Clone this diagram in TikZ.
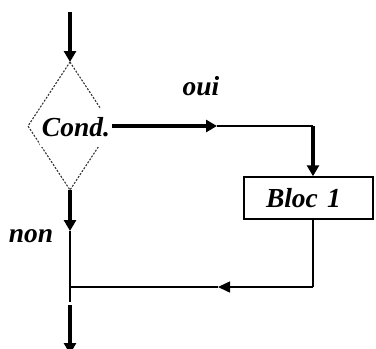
\documentclass[tikz,border=0pt]{standalone}
\usepackage{fontspec}
\setmainfont{Liberation Serif}
\usetikzlibrary{arrows.meta}
\begin{document}
\begin{tikzpicture}[x=1pt,y=-1pt,
  thickline/.style={line width=3.2pt},
  thinline/.style={line width=1.5pt},
  bighead/.style={-{Triangle[length=11pt,width=12pt]}},
  smallhead/.style={-{Triangle[length=12pt,width=11pt]}},
  lblfont/.style={font=\fontsize{27.5}{30}\selectfont\bfseries\itshape},
  lbl/.style={lblfont, inner sep=0pt},
  blk/.style={lblfont, draw, line width=1.5pt, minimum height=42pt, inner xsep=22pt, inner ysep=0pt, text width=85pt, align=left, text height=18pt, text depth=0pt}]
\useasboundingbox (0,0) rectangle (376,349);
% diamond
\coordinate (start) at (70,12);
\coordinate (dtop) at (70,62);
\coordinate (dleft) at (28,126);
\coordinate (dbot) at (70,190);
\coordinate (dright) at (112,126);
\draw[line width=1.1pt, black!80, dash pattern=on 2pt off 1.5pt] (dtop) -- (dright) -- (dbot) -- (dleft) -- cycle;
\node[lbl, fill=white, minimum width=72pt, minimum height=39pt, text height=18pt, text depth=0pt] (cond) at (76,127.5) {Cond.};
% block
\node[blk] (bloc) at (308.5,198) {Bloc 1};
% helper points
\coordinate (ouiarr) at (217,126);
\coordinate (c1) at (313,126);
\coordinate (c2) at (313,287);
\coordinate (retarr) at (218,287);
\coordinate (join) at (70,287);
\coordinate (nonarr) at (70,231);
\coordinate (vend) at (70,302);
\coordinate (outstart) at (70,305);
\coordinate (outend) at (70,354);
% connectors
\draw[thickline, bighead] (start) -- (dtop);
\draw[thickline, bighead] (dright) -- (ouiarr);
\draw[thinline] (ouiarr) -- (c1);
\draw[thickline, bighead] (c1) -- (c1 |- bloc.north);
\draw[thinline] (c1 |- bloc.south) -- (c2);
\draw[thinline, smallhead] (c2) -- (retarr);
\draw[thinline] (retarr) -- (join);
\draw[thickline, bighead] (dbot) -- (nonarr);
\draw[thinline] (nonarr) -- (vend);
\draw[thickline, bighead] (outstart) -- (outend);
% labels
\node[lbl, anchor=base] (oui) at (201,95) {oui};
\node[lbl, anchor=base] (non) at (31,242) {non};
\end{tikzpicture}
\end{document}
